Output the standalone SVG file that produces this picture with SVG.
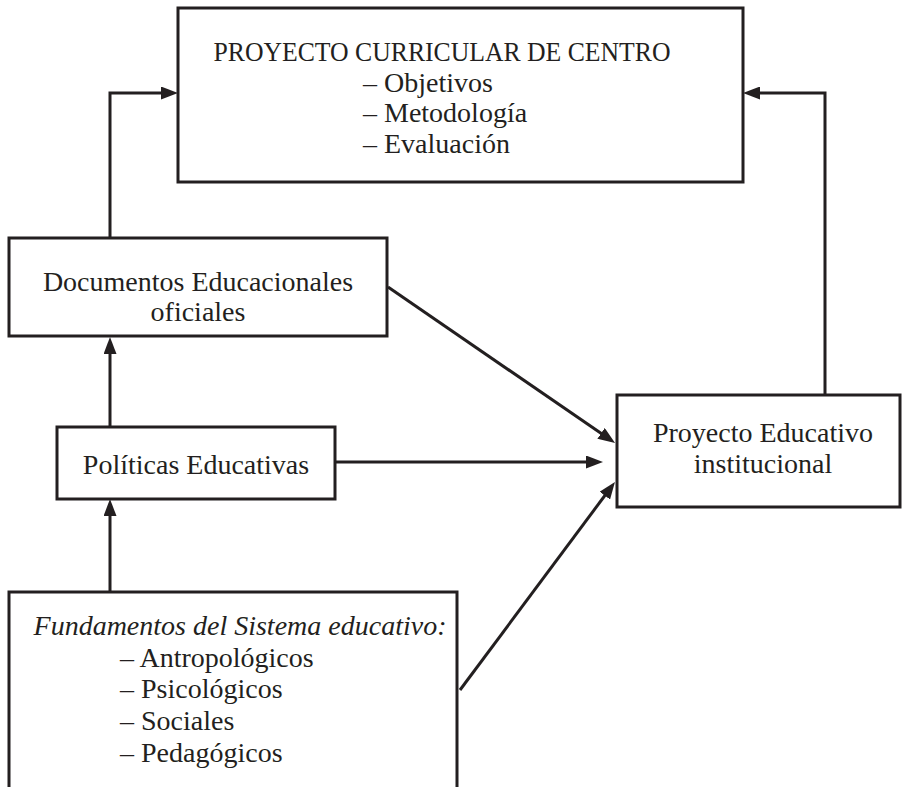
<svg xmlns="http://www.w3.org/2000/svg" width="904" height="787" viewBox="0 0 904 787">
<style>
.box{fill:#ffffff;stroke:#231f20;stroke-width:3}
.edge{fill:none;stroke:#231f20;stroke-width:3}
.t{font-family:"Liberation Serif","Times New Roman",serif;font-size:28px;fill:#231f20}
.m{text-anchor:middle}
.i{font-style:italic}
</style>
<defs>
<marker id="ah" markerUnits="userSpaceOnUse" markerWidth="17" markerHeight="13" refX="7" refY="6.5" orient="auto">
<path d="M0,0 L17,6.5 L0,13 z" fill="#231f20"/>
</marker>
</defs>
<rect width="904" height="787" fill="#ffffff"/>
<g id="connectors">
<path class="edge" d="M110,238 V93 H168" marker-end="url(#ah)"/>
<path class="edge" d="M825,395 V93 H753" marker-end="url(#ah)"/>
<path class="edge" d="M388,287 L606.8,437.3" marker-end="url(#ah)"/>
<path class="edge" d="M335,462 H593" marker-end="url(#ah)"/>
<path class="edge" d="M460,690 L609,490" marker-end="url(#ah)"/>
<path class="edge" d="M110,427 V347" marker-end="url(#ah)"/>
<path class="edge" d="M110,592 V509" marker-end="url(#ah)"/>
</g>
<g id="pcc">
<rect class="box" x="178" y="8" width="565" height="174"/>
<text class="t m" x="442" y="61" textLength="457" lengthAdjust="spacingAndGlyphs">PROYECTO CURRICULAR DE CENTRO</text>
<text class="t" x="363" y="92">– Objetivos</text>
<text class="t" x="363" y="122">– Metodología</text>
<text class="t" x="363" y="153">– Evaluación</text>
</g>
<g id="documentos">
<rect class="box" x="9" y="238" width="378" height="98"/>
<text class="t m" x="198" y="291">Documentos Educacionales</text>
<text class="t m" x="198" y="321">oficiales</text>
</g>
<g id="politicas">
<rect class="box" x="57" y="427" width="278" height="72"/>
<text class="t m" x="196" y="474">Políticas Educativas</text>
</g>
<g id="pei">
<rect class="box" x="617" y="395" width="283" height="112"/>
<text class="t m" x="763" y="442">Proyecto Educativo</text>
<text class="t m" x="763" y="473">institucional</text>
</g>
<g id="fundamentos">
<path class="box" d="M9,790 V592 H457 V790"/>
<text class="t m i" x="240" y="635">Fundamentos del Sistema educativo:</text>
<text class="t" x="120" y="667">– Antropológicos</text>
<text class="t" x="120" y="698">– Psicológicos</text>
<text class="t" x="120" y="730">– Sociales</text>
<text class="t" x="120" y="762">– Pedagógicos</text>
</g>
</svg>
